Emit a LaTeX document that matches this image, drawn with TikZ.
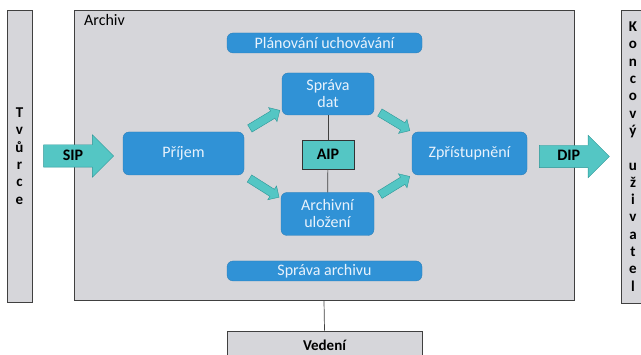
\documentclass[tikz,border=0pt]{standalone}
\usepackage{fontspec}
\setmainfont{Carlito}
\usetikzlibrary{shapes.arrows, positioning}

\definecolor{archgray}{RGB}{214,214,218}
\definecolor{taskblue}{RGB}{48,146,214}
\definecolor{tasktext}{RGB}{232,242,252}
\definecolor{arrowteal}{RGB}{84,198,196}
\definecolor{arrowedge}{RGB}{44,150,150}

\begin{document}
\begin{tikzpicture}[x=1pt, y=-1pt,
	panel/.style={draw=black!75, fill=archgray, line width=0.7pt, inner sep=0pt},
	task/.style={fill=taskblue, draw=taskblue!85!black, line width=0.3pt, rounded corners=6pt, text=tasktext, font=\fontsize{16}{17}\selectfont, align=center, inner sep=0pt},
	package/.style={single arrow, single arrow head extend=10pt, draw=arrowedge, fill=arrowteal, font=\bfseries\fontsize{16}{17}\selectfont, text height=11pt, text depth=2pt, inner ysep=4.5pt, inner xsep=6pt, align=center, minimum height=70pt},
	flow/.style={single arrow, single arrow head extend=4pt, draw=arrowedge, fill=arrowteal, inner sep=0pt, text height=8pt, text depth=0pt, minimum height=35pt},
	sidetext/.style={font=\bfseries\fontsize{15}{17.3}\selectfont, align=center}]
		\useasboundingbox (0,0) rectangle (641,355);
		% outer panels
		\node[panel, minimum width=25pt, minimum height=292pt] (tvurce) at (19.5,156) {};
		\node[panel, minimum width=500pt, minimum height=290pt] (archiv) at (324,155) {};
		\node[panel, minimum width=24pt, minimum height=293pt] (uzivatel) at (633,156.5) {};
		\node[panel, minimum width=195pt, minimum height=28pt, font=\bfseries\fontsize{15}{17}\selectfont] (vedeni) at (324.5,345) {Vedení};
		\node[anchor=north west, font=\fontsize{16}{17}\selectfont] at ([xshift=7pt, yshift=-1pt]archiv.north west) {Archiv};
		\node[sidetext] at (tvurce.center) {T\\v\\ů\\r\\c\\e};
		\node[sidetext] at (uzivatel.center) {K\\o\\n\\c\\o\\v\\ý\\[17.3pt]u\\ž\\i\\v\\a\\t\\e\\l};
		% functions
		\node[task, minimum width=195pt, minimum height=20pt] (planovani) at (324.5,43) {Plánování uchovávání};
		\node[task, minimum width=92pt, minimum height=42pt] (sprava) at (328,94) {Správa\\dat};
		\node[task, minimum width=93pt, minimum height=43pt] (ulozeni) at (327.5,214) {Archivní\\uložení};
		\node[task, minimum width=121pt, minimum height=43pt] (prijem) at (183.5,153.5) {Příjem};
		\node[task, minimum width=115pt, minimum height=43pt] (zpristupneni) at (469.5,153.5) {Zpřístupnění};
		\node[task, minimum width=195pt, minimum height=20pt] (spravaarch) at (324.5,271) {Správa archivu};
		\node[draw=black!80, fill=arrowteal, line width=0.7pt, minimum width=52pt, minimum height=29pt, font=\bfseries\fontsize{16}{17}\selectfont] (aip) at (328,154.5) {AIP};
		% connections
		\draw[black!75, line width=0.7pt] (sprava) -- (aip);
		\draw[black!75, line width=0.7pt] (aip) -- (ulozeni);
		\draw[black!75, line width=0.7pt] (archiv.south) -- (vedeni.north);
		\path (prijem.north east) -- node[flow, sloped] {} ([yshift=6pt]sprava.south west);
		\path (prijem.south east) -- node[flow, sloped] {} ([yshift=-6pt]ulozeni.north west);
		\path ([yshift=6pt]sprava.south east) -- node[flow, sloped] {} (zpristupneni.north west);
		\path ([yshift=-6pt]ulozeni.north east) -- node[flow, sloped] {} (zpristupneni.south west);
		\node[package, text width=37pt, right=11pt of tvurce] (sip) {SIP};
		\node[package, text width=38pt, left=11pt of uzivatel] (dip) {DIP};
	\end{tikzpicture}
\end{document}
